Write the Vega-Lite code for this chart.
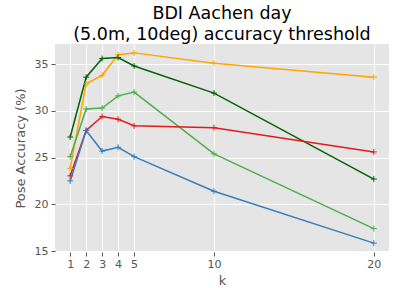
{
  "$schema": "https://vega.github.io/schema/vega-lite/v6.json",
  "width": 334,
  "height": 208,
  "autosize": "none",
  "padding": {"left": 55, "top": 44, "right": 11, "bottom": 36},
  "background": "white",
  "title": {
    "text": ["BDI Aachen day", "(5.0m, 10deg) accuracy threshold"],
    "font": "DejaVu Sans",
    "fontSize": 17.5,
    "fontWeight": "normal",
    "color": "black",
    "lineHeight": 21,
    "anchor": "middle",
    "offset": 1
  },
  "config": {
    "view": {"fill": "#E5E5E5", "stroke": null},
    "axis": {
      "labelFont": "DejaVu Sans",
      "titleFont": "DejaVu Sans",
      "labelFontSize": 11,
      "titleFontSize": 13,
      "titleFontWeight": "normal",
      "labelColor": "#555555",
      "titleColor": "#555555",
      "tickColor": "#555555",
      "tickSize": 4,
      "domain": false,
      "gridColor": "white",
      "gridWidth": 1
    }
  },
  "data": {
    "values": [
      {"k": 1, "v": 23.85, "s": "a"}, {"k": 2, "v": 32.9, "s": "a"}, {"k": 3, "v": 33.8, "s": "a"}, {"k": 4, "v": 36.0, "s": "a"}, {"k": 5, "v": 36.2, "s": "a"}, {"k": 10, "v": 35.1, "s": "a"}, {"k": 20, "v": 33.6, "s": "a"},
      {"k": 1, "v": 27.2, "s": "b"}, {"k": 2, "v": 33.6, "s": "b"}, {"k": 3, "v": 35.6, "s": "b"}, {"k": 4, "v": 35.7, "s": "b"}, {"k": 5, "v": 34.8, "s": "b"}, {"k": 10, "v": 31.9, "s": "b"}, {"k": 20, "v": 22.7, "s": "b"},
      {"k": 1, "v": 25.1, "s": "c"}, {"k": 2, "v": 30.2, "s": "c"}, {"k": 3, "v": 30.3, "s": "c"}, {"k": 4, "v": 31.6, "s": "c"}, {"k": 5, "v": 32.0, "s": "c"}, {"k": 10, "v": 25.4, "s": "c"}, {"k": 20, "v": 17.4, "s": "c"},
      {"k": 1, "v": 23.05, "s": "d"}, {"k": 2, "v": 27.9, "s": "d"}, {"k": 3, "v": 29.4, "s": "d"}, {"k": 4, "v": 29.1, "s": "d"}, {"k": 5, "v": 28.4, "s": "d"}, {"k": 10, "v": 28.2, "s": "d"}, {"k": 20, "v": 25.6, "s": "d"},
      {"k": 1, "v": 22.5, "s": "e"}, {"k": 2, "v": 27.9, "s": "e"}, {"k": 3, "v": 25.7, "s": "e"}, {"k": 4, "v": 26.1, "s": "e"}, {"k": 5, "v": 25.1, "s": "e"}, {"k": 10, "v": 21.4, "s": "e"}, {"k": 20, "v": 15.85, "s": "e"}
    ]
  },
  "encoding": {
    "x": {
      "field": "k", "type": "quantitative",
      "scale": {"domain": [0.05, 20.95], "nice": false, "zero": false},
      "axis": {"values": [1, 2, 3, 4, 5, 10, 20], "title": "k", "labelPadding": 2, "titlePadding": 5}
    },
    "y": {
      "field": "v", "type": "quantitative",
      "scale": {"domain": [14.9, 37.15], "nice": false, "zero": false},
      "axis": {"values": [15, 20, 25, 30, 35], "title": "Pose Accuracy (%)", "labelPadding": 3, "titlePadding": 7}
    },
    "color": {
      "field": "s", "type": "nominal", "legend": null,
      "scale": {"domain": ["a", "b", "c", "d", "e"], "range": ["#FFA500", "#006400", "#4DAF4A", "#E41A1C", "#377EB8"]}
    }
  },
  "layer": [
    {"mark": {"type": "line", "strokeWidth": 1.5}},
    {"mark": {"type": "point", "shape": "M-1,0L1,0M0,-1L0,1", "filled": false, "size": 36, "strokeWidth": 1, "opacity": 1}}
  ]
}
